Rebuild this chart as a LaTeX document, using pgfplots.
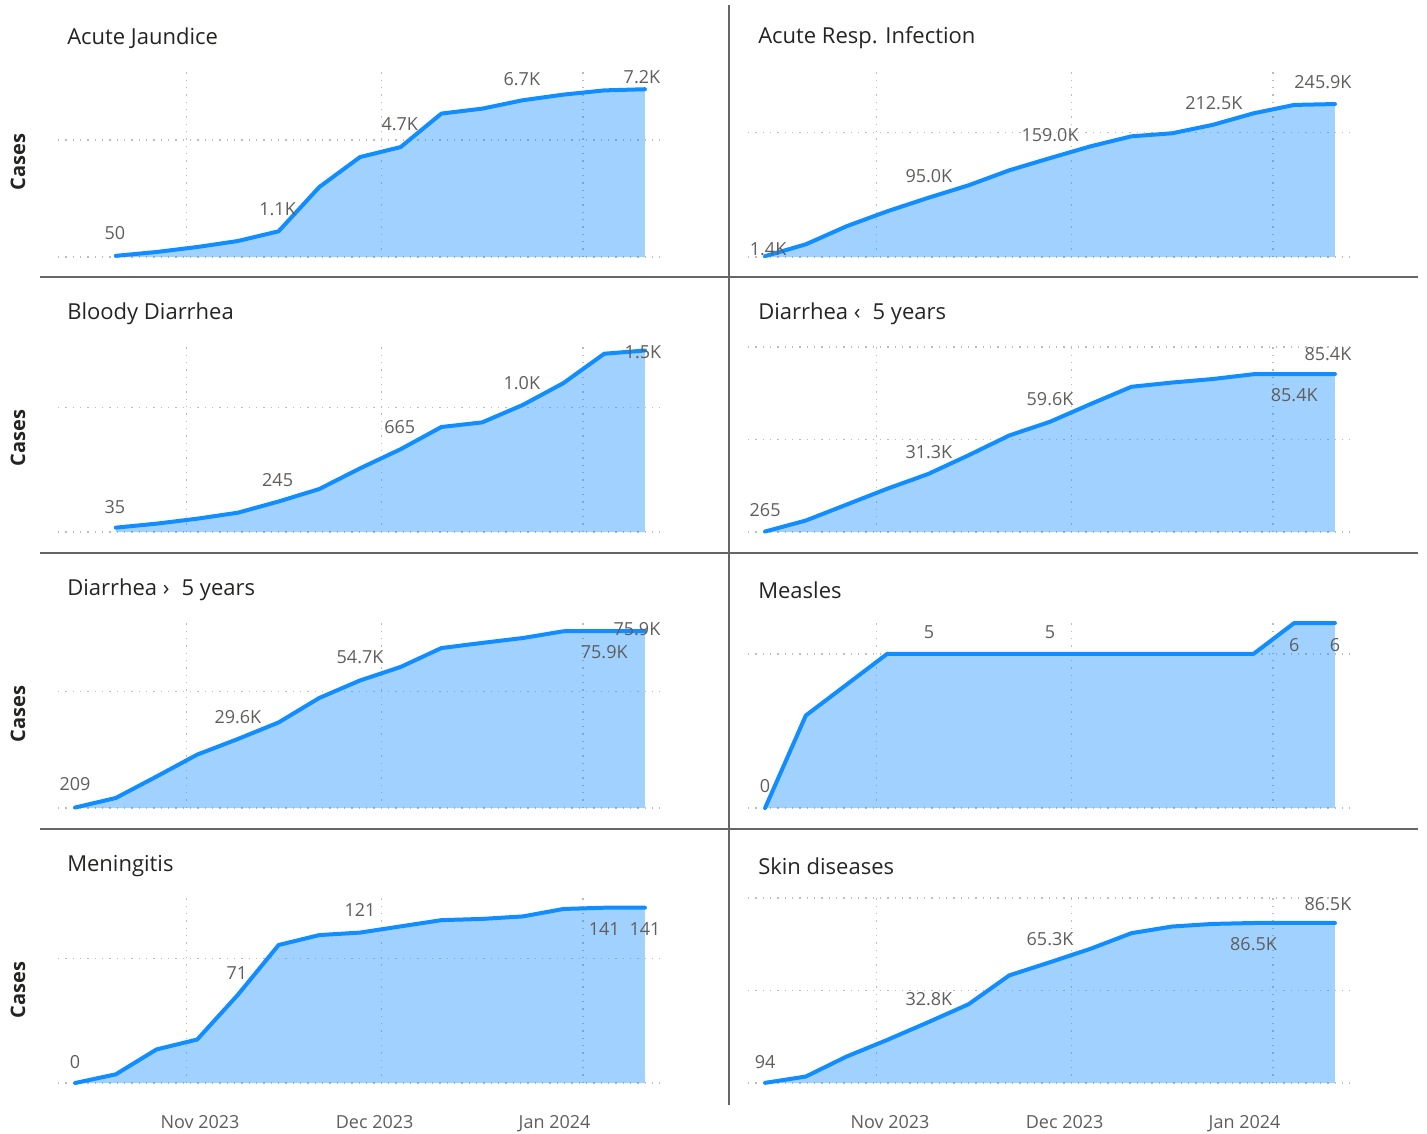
\documentclass[border=0pt]{standalone}
\usepackage{fontspec}
\setmainfont{Open Sans}
\newfontfamily\casesfont{Open Sans}
\usepackage{pgfplots}
\usepackage{pgfplotstable}
\pgfplotsset{compat=1.18}

\definecolor{pbline}{HTML}{118DFF}
\definecolor{lbl}{HTML}{605E5C}
\definecolor{ttl}{HTML}{252423}
\definecolor{sep}{HTML}{666666}
\definecolor{grd}{HTML}{BEBCBA}

% cumulative cases per week, week index 0..14
\pgfplotstableread{
x y
1 50
2 214
3 427
4 684
5 1100
6 2990
7 4270
8 4700
9 6130
10 6340
11 6700
12 6940
13 7120
14 7170
}\tJaundice
\pgfplotstableread{
x y
0 1400
1 20400
2 49400
3 73500
4 95000
5 115300
6 139400
7 159000
8 178000
9 194000
10 198900
11 212500
12 231000
13 244500
14 245900
}\tResp
\pgfplotstableread{
x y
1 35
2 67
3 107
4 155
5 245
6 345
7 511
8 665
9 843
10 880
11 1020
12 1196
13 1431
14 1457
}\tBloody
\pgfplotstableread{
x y
0 265
1 6200
2 14800
3 23400
4 31300
5 41500
6 52200
7 59600
8 69200
9 78500
10 80800
11 82700
12 85300
13 85400
14 85400
}\tDiarLess
\pgfplotstableread{
x y
0 209
1 4300
2 13500
3 22900
4 29600
5 36700
6 47200
7 54700
8 60500
9 68600
10 70800
11 72900
12 75800
13 75900
14 75900
}\tDiarMore
\pgfplotstableread{
x y
0 0
1 3
2 4
3 5
4 5
5 5
6 5
7 5
8 5
9 5
10 5
11 5
12 5
13 6
14 6
}\tMeasles
\pgfplotstableread{
x y
0 0
1 7
2 27
3 35
4 71
5 111
6 119
7 121
8 126
9 131
10 132
11 134
12 140
13 141
14 141
}\tMening
\pgfplotstableread{
x y
0 94
1 3500
2 14300
3 23300
4 32800
5 42600
6 58200
7 65300
8 72600
9 81000
10 84600
11 86000
12 86500
13 86500
14 86500
}\tSkin

\newcommand\lblfont{\fontsize{13.5}{16}\selectfont}
% data label: x, y, dx px, dy px (up), text
\newcommand\dl[5]{\node[lbl,font=\lblfont,inner sep=0pt,xshift={#3*0.75pt},yshift={#4*0.75pt}] at (axis cs:#1,#2) {#5};}
\newcommand\series[1]{%
  \addplot[draw=none,fill=pbline,fill opacity=0.4] table {#1} \closedcycle;
  \addplot[pbline,line width=3pt,line join=round,line cap=round] table {#1};
}

\pgfplotsset{
  panel/.style={
    scale only axis,width=451.5pt,height=138.75pt,
    xmin=-0.42,xmax=14.37,ymin=0,
    axis line style={draw=none},
    major tick length=0pt,
    xtick={2.73,7.53,12.48},xticklabels={},
    yticklabels={},scaled y ticks=false,
    grid=major,
    major grid style={grd,line width=1pt,dash pattern=on 1pt off 4.5pt},
    clip=false,
  },
  bottom/.style={
    extra x ticks={3.07,7.36,11.78},
    extra x tick labels={Nov 2023,Dec 2023,Jan 2024},
    extra x tick style={grid=none},
    xticklabel style={lbl,font=\fontsize{13.5}{16}\selectfont,yshift=-21pt},
  },
  pos/.style 2 args={at={({#1*0.75pt},{-#2*0.75pt})},anchor=south west},
}

\begin{document}
\begin{tikzpicture}

% row 1
\begin{axis}[panel,pos={58}{257},ymax=7906,ytick={0,5000}]
\series{\tJaundice}
\dl{1}{50}{-1}{23}{50}
\dl{5}{1100}{-1}{22}{1.1K}
\dl{8}{4700}{-1}{23}{4.7K}
\dl{11}{6700}{-1}{21}{6.7K}
\dl{14}{7170}{-3}{12}{7.2K}
\end{axis}
\begin{axis}[panel,pos={748}{257},ymax=297400,ytick={0,200000}]
\series{\tResp}
\dl{0}{1400}{3}{7}{1.4K}
\dl{4}{95000}{1}{22}{95.0K}
\dl{7}{159000}{0}{23}{159.0K}
\dl{11}{212500}{1}{22}{212.5K}
\dl{14}{245900}{-12}{22}{245.9K}
\end{axis}

% row 2
\begin{axis}[panel,pos={58}{532},ymax=1485,ytick={0,1000}]
\series{\tBloody}
\dl{1}{35}{-1}{21}{35}
\dl{5}{245}{-1}{21}{245}
\dl{8}{665}{-1}{22}{665}
\dl{11}{1020}{-1}{22}{1.0K}
\dl{14}{1457}{-2}{-2}{1.5K}
\end{axis}
\begin{axis}[panel,pos={748}{532},ymax=100000,ytick={0,50000,100000}]
\series{\tDiarLess}
\dl{0}{265}{0}{21}{265}
\dl{4}{31300}{1}{22}{31.3K}
\dl{7}{59600}{0}{23}{59.6K}
\dl{14}{85400}{-7}{20}{85.4K}
\dl{13}{85400}{0}{-21}{85.4K}
\end{axis}

% row 3
\begin{axis}[panel,pos={58}{808},ymax=79330,ytick={0,50000}]
\series{\tDiarMore}
\dl{0}{209}{0}{23}{209}
\dl{4}{29600}{0}{22}{29.6K}
\dl{7}{54700}{0}{23}{54.7K}
\dl{14}{75900}{-8}{2}{75.9K}
\dl{13}{75900}{0}{-21}{75.9K}
\end{axis}
\begin{axis}[panel,pos={748}{808},ymax=6,ytick={0,5}]
\series{\tMeasles}
\dl{0}{0}{0}{22}{0}
\dl{4}{5}{1}{22}{5}
\dl{7}{5}{0}{22}{5}
\dl{13}{6}{0}{-22}{6}
\dl{14}{6}{0}{-22}{6}
\end{axis}

% row 4
\begin{axis}[panel,bottom,pos={58}{1083},ymax=148.8,ytick={0,100}]
\series{\tMening}
\dl{0}{0}{0}{21}{0}
\dl{4}{71}{-1}{22}{71}
\dl{7}{121}{0}{23}{121}
\dl{13}{141}{0}{-21}{141}
\dl{14}{141}{0}{-21}{141}
\end{axis}
\begin{axis}[panel,bottom,pos={748}{1083},ymax=100000,ytick={0,50000,100000}]
\series{\tSkin}
\dl{0}{94}{0}{21}{94}
\dl{4}{32800}{1}{23}{32.8K}
\dl{7}{65300}{0}{23}{65.3K}
\dl{14}{86500}{-7}{19}{86.5K}
\dl{12}{86500}{0}{-21}{86.5K}
\end{axis}

\begin{scope}[x=0.75pt,y=-0.75pt]
% separators
\draw[sep,line width=1.5pt] (40,277) -- (1418,277);
\draw[sep,line width=1.5pt] (40,553) -- (1418,553);
\draw[sep,line width=1.5pt] (40,829) -- (1418,829);
\draw[sep,line width=1.5pt] (729,5) -- (729,1105);
% titles
\begin{scope}[every node/.style={anchor=west,ttl,inner sep=0pt,font=\fontsize{16.5}{19}\selectfont}]
\node at (67,38) {Acute Jaundice};
\node at (758,38) {Acute Resp. Infection};
\node at (67,314) {Bloody Diarrhea};
\node at (758,314) {Diarrhea ‹\hspace{0.55em}5 years};
\node at (67,590) {Diarrhea ›\hspace{0.55em}5 years};
\node at (758,590) {Measles};
\node at (67,866) {Meningitis};
\node at (758,866) {Skin diseases};
\end{scope}
% y axis titles
\begin{scope}[every node/.style={rotate=90,ttl,inner sep=0pt,font=\casesfont\bfseries\fontsize{15}{18}\selectfont}]
\node at (18,162) {Cases};
\node at (18,438) {Cases};
\node at (18,714) {Cases};
\node at (18,990) {Cases};
\end{scope}
\end{scope}

\pgfresetboundingbox
\useasboundingbox (0,0) rectangle (1070.25pt,-849.75pt);
\end{tikzpicture}
\end{document}
